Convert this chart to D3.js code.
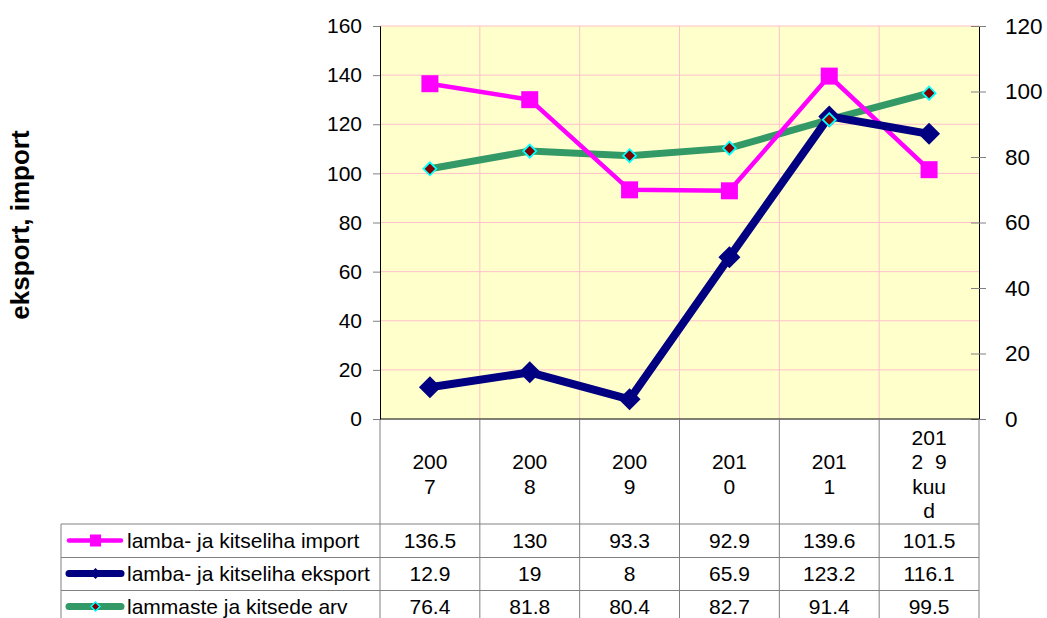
<!DOCTYPE html>
<html>
<head>
<meta charset="utf-8">
<script src="https://cdn.jsdelivr.net/npm/d3@7"></script>
<style>
  body { margin: 0; background: #fff; }
  text { font-family: "Liberation Sans", Arial, sans-serif; fill: #000; }
</style>
</head>
<body>
<script>
'use strict';

// chart data
let categories = ["2007", "2008", "2009", "2010", "2011", "2012 9 kuud"];
let categoryLines = [["200", "7"], ["200", "8"], ["200", "9"], ["201", "0"], ["201", "1"], ["201", "2  9", "kuu", "d"]];
let importValues = [136.5, 130, 93.3, 92.9, 139.6, 101.5];
let eksportValues = [12.9, 19, 8, 65.9, 123.2, 116.1];
let arvValues = [76.4, 81.8, 80.4, 82.7, 91.4, 99.5];
let seriesNames = ["lamba- ja kitseliha import", "lamba- ja kitseliha eksport", "lammaste ja kitsede arv"];
let tableLabels = [["136.5", "130", "93.3", "92.9", "139.6", "101.5"],
                   ["12.9", "19", "8", "65.9", "123.2", "116.1"],
                   ["76.4", "81.8", "80.4", "82.7", "91.4", "99.5"]];
let leftTicks = [0, 20, 40, 60, 80, 100, 120, 140, 160];
let rightTicks = [0, 20, 40, 60, 80, 100, 120];

let svg = d3.select('body').append('svg')
  .attr('width', 1047)
  .attr('height', 618);

let plot = { left: 380, right: 979, top: 26, bottom: 419 };

let xScale = d3.scaleBand().domain(categories).range([plot.left, plot.right]);
let yLeft = d3.scaleLinear().domain([0, 160]).range([plot.bottom, plot.top]);
let yRight = d3.scaleLinear().domain([0, 120]).range([plot.bottom, plot.top]);
let xMid = (d) => xScale(d) + xScale.bandwidth() / 2;

// plot background
svg.append('rect')
  .attr('x', plot.left).attr('y', plot.top)
  .attr('width', plot.right - plot.left).attr('height', plot.bottom - plot.top)
  .attr('fill', '#ffffcc');

// gridlines
svg.append('g').selectAll('line')
  .data(leftTicks.slice(1))
  .enter().append('line')
  .attr('x1', plot.left).attr('x2', plot.right)
  .attr('y1', (d) => yLeft(d)).attr('y2', (d) => yLeft(d))
  .attr('stroke', '#ffc0cb').attr('stroke-width', 1);

svg.append('g').selectAll('line')
  .data(categories.slice(1))
  .enter().append('line')
  .attr('x1', (d) => xScale(d)).attr('x2', (d) => xScale(d))
  .attr('y1', plot.top).attr('y2', plot.bottom)
  .attr('stroke', '#ffc0cb').attr('stroke-width', 1);

// left axis
let leftAxis = svg.append('g')
  .attr('transform', `translate(${plot.left}, 0)`)
  .call(d3.axisLeft(yLeft).tickValues(leftTicks).tickSize(7).tickPadding(11));
leftAxis.select('.domain').attr('stroke', '#000');
leftAxis.selectAll('.tick line').attr('stroke', '#808080');
leftAxis.selectAll('.tick text').style('font-size', '21px').attr('fill', '#000');

// right axis, ticks cross the line
let rightAxis = svg.append('g')
  .attr('transform', `translate(${plot.right}, 0)`)
  .call(d3.axisRight(yRight).tickValues(rightTicks).tickSize(7).tickPadding(19));
rightAxis.select('.domain').attr('stroke', '#000');
rightAxis.selectAll('.tick line').attr('x1', -8).attr('stroke', '#808080');
rightAxis.selectAll('.tick text').style('font-size', '22.5px').attr('fill', '#000');

// bottom axis line
svg.append('line')
  .attr('x1', plot.left).attr('x2', plot.right)
  .attr('y1', plot.bottom).attr('y2', plot.bottom)
  .attr('stroke', '#000');

// data table
let table = { left: 61, header: 524, rowH: 33, bottom: 625 };
let boundaries = categories.map((d) => xScale(d)).concat([plot.right]);

svg.append('g').selectAll('line')
  .data(boundaries)
  .enter().append('line')
  .attr('x1', (d) => d).attr('x2', (d) => d)
  .attr('y1', plot.bottom).attr('y2', table.bottom)
  .attr('stroke', '#808080');

svg.append('line')
  .attr('x1', table.left).attr('x2', table.left)
  .attr('y1', table.header).attr('y2', table.bottom)
  .attr('stroke', '#808080');

svg.append('g').selectAll('line')
  .data([0, 1, 2])
  .enter().append('line')
  .attr('x1', table.left).attr('x2', plot.right)
  .attr('y1', (d) => table.header + d * table.rowH + (d > 0 ? 0.5 : 0))
  .attr('y2', (d) => table.header + d * table.rowH + (d > 0 ? 0.5 : 0))
  .attr('stroke', '#808080');

// header labels (wrapped like the original cell text)
categories.forEach((c, i) => {
  let lines = categoryLines[i];
  let lineH = 24.5;
  let startY = 474 - (lines.length - 1) * lineH / 2;
  svg.append('text')
    .attr('text-anchor', 'middle')
    .style('font-size', '21px')
    .style('white-space', 'pre')
    .selectAll('tspan')
    .data(lines)
    .enter().append('tspan')
    .attr('x', xMid(c))
    .attr('y', (d, j) => startY + j * lineH)
    .attr('dy', '0.35em')
    .text((d) => d);
});

// table values
tableLabels.forEach((row, r) => {
  svg.append('g').selectAll('text')
    .data(row)
    .enter().append('text')
    .attr('x', (d, i) => xMid(categories[i]))
    .attr('y', table.header + r * table.rowH + table.rowH / 2)
    .attr('dy', '0.35em')
    .attr('text-anchor', 'middle')
    .style('font-size', '21px')
    .text((d) => d);
});

// series
let lineLeft = d3.line()
  .x((d, i) => xMid(categories[i]))
  .y((d) => yLeft(d));
let lineRight = d3.line()
  .x((d, i) => xMid(categories[i]))
  .y((d) => yRight(d));

let diamond = (s) => `M0,${-s}L${s},0L0,${s}L${-s},0Z`;

svg.append('path')
  .attr('d', lineRight(arvValues))
  .attr('fill', 'none').attr('stroke', '#339966').attr('stroke-width', 7);

svg.append('path')
  .attr('d', lineLeft(importValues))
  .attr('fill', 'none').attr('stroke', '#ff00ff').attr('stroke-width', 4.5);

svg.append('g').selectAll('rect')
  .data(importValues)
  .enter().append('rect')
  .attr('x', (d, i) => xMid(categories[i]) - 8.5)
  .attr('y', (d) => yLeft(d) - 8.5)
  .attr('width', 17).attr('height', 17)
  .attr('fill', '#ff00ff');

svg.append('path')
  .attr('d', lineLeft(eksportValues))
  .attr('fill', 'none').attr('stroke', '#000080').attr('stroke-width', 8);

svg.append('g').selectAll('path')
  .data(eksportValues)
  .enter().append('path')
  .attr('transform', (d, i) => `translate(${xMid(categories[i])}, ${yLeft(d)})`)
  .attr('d', diamond(11))
  .attr('fill', '#000080');

svg.append('g').selectAll('path')
  .data(arvValues)
  .enter().append('path')
  .attr('transform', (d, i) => `translate(${xMid(categories[i])}, ${yRight(d)})`)
  .attr('d', diamond(6.5))
  .attr('fill', '#800000').attr('stroke', '#00ffff').attr('stroke-width', 1.8);

// legend keys in table
let legendStyles = [
  { color: '#ff00ff', width: 4.5 },
  { color: '#000080', width: 7 },
  { color: '#339966', width: 7 }
];
seriesNames.forEach((name, r) => {
  let cy = table.header + r * table.rowH + table.rowH / 2;
  let st = legendStyles[r];
  svg.append('line')
    .attr('x1', 69).attr('x2', 121)
    .attr('y1', cy).attr('y2', cy)
    .attr('stroke', st.color).attr('stroke-width', st.width)
    .attr('stroke-linecap', 'round');
  if (r === 0) {
    svg.append('rect')
      .attr('x', 90).attr('y', cy - 6).attr('width', 11).attr('height', 12)
      .attr('fill', '#ff00ff');
  } else if (r === 1) {
    svg.append('path')
      .attr('transform', `translate(95.5, ${cy})`)
      .attr('d', diamond(5.5)).attr('fill', '#000080');
  } else {
    svg.append('path')
      .attr('transform', `translate(95.5, ${cy})`)
      .attr('d', diamond(4.5))
      .attr('fill', '#800000').attr('stroke', '#00ffff').attr('stroke-width', 1.5);
  }
  svg.append('text')
    .attr('x', 127).attr('y', cy).attr('dy', '0.35em')
    .style('font-size', '21px')
    .text(name);
});

// y axis title
svg.append('text')
  .attr('transform', 'translate(20, 225)rotate(-90)')
  .attr('dy', '0.35em')
  .attr('text-anchor', 'middle')
  .style('font-size', '26px')
  .style('font-weight', 'bold')
  .text('eksport, import');
</script>
</body>
</html>
